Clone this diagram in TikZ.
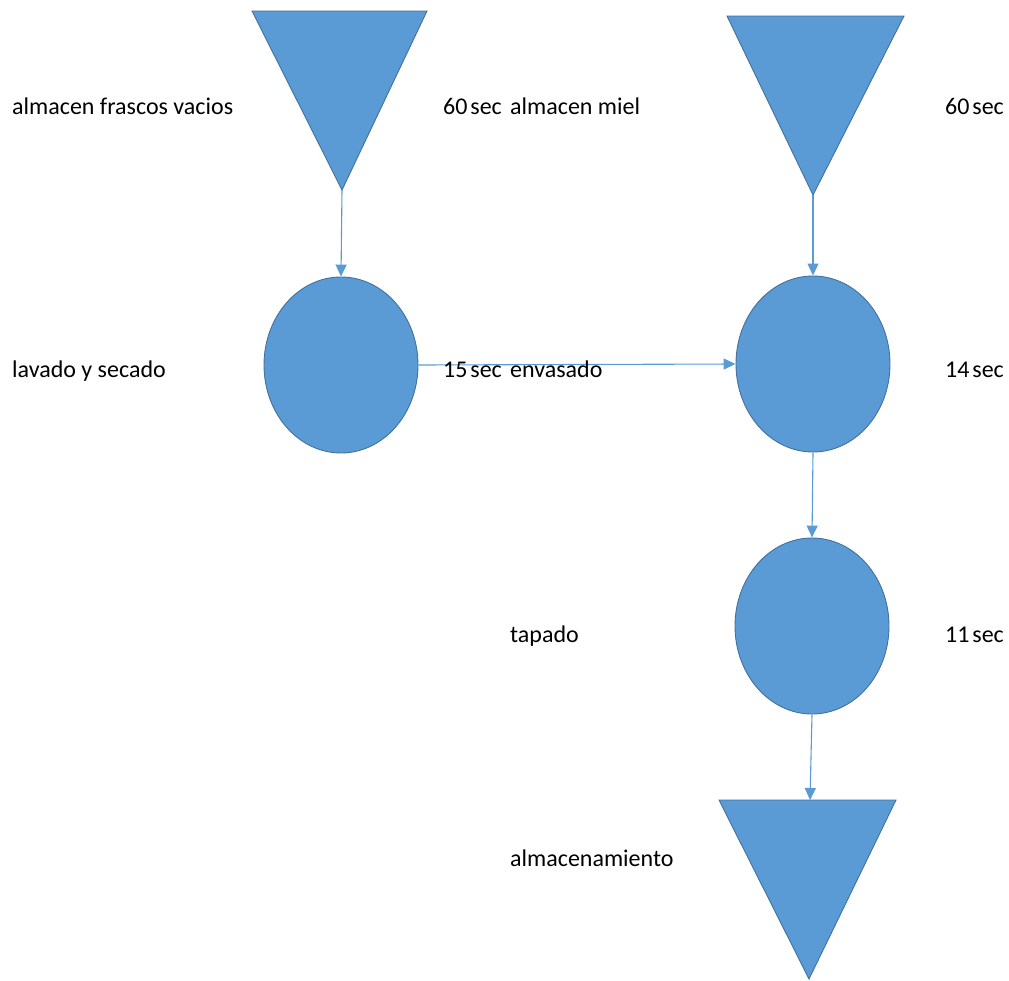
\documentclass[tikz,border=0pt]{standalone}
\usepackage{fontspec}
\setmainfont{Carlito}
\usetikzlibrary{arrows.meta,shapes.geometric}
\definecolor{fillblue}{HTML}{5B9BD5}
\definecolor{edgeblue}{HTML}{41719C}
\newcommand{\tsp}{\hspace{0.12em}}
\begin{document}
\begin{tikzpicture}[x=1pt,y=-1pt,
  shapefill/.style={fill=fillblue,draw=edgeblue,line width=0.9pt},
  flow/.style={draw=fillblue,line width=1.1pt,-{Triangle[length=12pt,width=11pt]}},
  lbl/.style={anchor=base west,inner sep=0pt,font=\fontsize{24}{28}\selectfont}]
\useasboundingbox (0,0) rectangle (1009,980);
% storage triangles
\filldraw[shapefill] (252,11) -- (427,11) -- (342,190) -- cycle;
\coordinate (t1) at (342,190);
\filldraw[shapefill] (727,16) -- (904,16) -- (813,195) -- cycle;
\coordinate (t2) at (813,195);
\filldraw[shapefill] (719,800) -- (896,800) -- (809,979) -- cycle;
\coordinate (t3) at (810,800);
% operation circles
\node[shapefill,ellipse,minimum width=154pt,minimum height=176pt,inner sep=0pt] (c1) at (341,365) {};
\node[shapefill,ellipse,minimum width=154pt,minimum height=176pt,inner sep=0pt] (c2) at (813,364) {};
\node[shapefill,ellipse,minimum width=154pt,minimum height=176pt,inner sep=0pt] (c3) at (812,626) {};
% connectors
\draw[flow] (t1) -- (c1.north);
\draw[flow] (t2) -- (c2.north);
\draw[flow] (c1.east) -- (c2.west);
\draw[flow] (c2.south) -- (c3.north);
\draw[flow] (c3.south) -- (t3);
% labels
\node[lbl] (l1) at (12,114) {almacen frascos vacios};
\node[lbl] (l2) at (443,114) {60\tsp sec};
\node[lbl] (l3) at (510,114) {almacen miel};
\node[lbl] (l4) at (945,114) {60\tsp sec};
\node[lbl] (l5) at (12,377) {lavado y secado};
\node[lbl] (l6) at (443,377) {15\tsp sec};
\node[lbl] (l7) at (510,377) {envasado};
\node[lbl] (l8) at (945,377) {14\tsp sec};
\node[lbl] (l9) at (510,642) {tapado};
\node[lbl] (l10) at (945,642) {11\tsp sec};
\node[lbl] (l11) at (510,866) {almacenamiento};
\end{tikzpicture}
\end{document}
